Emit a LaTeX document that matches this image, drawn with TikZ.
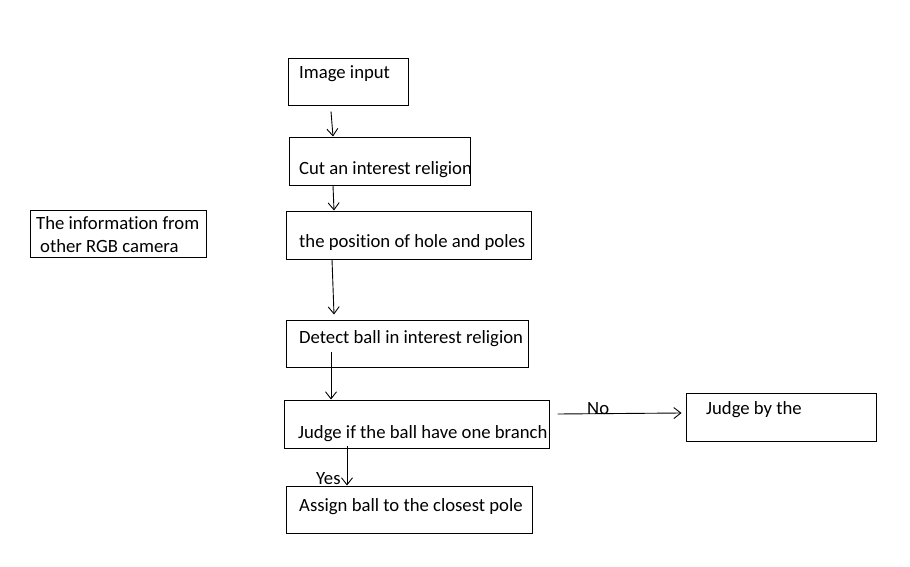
\documentclass[tikz,border=0pt]{standalone}
\usepackage{fontspec}
\setmainfont{Carlito}[Ligatures={NoCommon}]
\usepackage{tikz}
\usetikzlibrary{positioning, arrows.meta, calc}

\tikzset{
  flowbox/.style={draw, line width=1pt, minimum height=47pt, inner sep=0pt},
  boxtext/.style={anchor=base west, inner sep=0pt, font=\fontsize{18.7}{22}\selectfont},
  flowarrow/.style={-{Straight Barb[length=7pt,width=11pt]}, line width=0.9pt},
}

\begin{document}
\begin{tikzpicture}[x=1pt,y=-1pt]
  \useasboundingbox (0,0) rectangle (910,567);

  % boxes
  \node[flowbox, minimum width=120pt] (imgbox) at (348,82.5) {};
  \node[flowbox, minimum width=181pt] (cutbox) at (379.5,161.5) {};
  \node[flowbox, minimum width=245pt, minimum height=48pt] (posbox) at (408.5,235) {};
  \node[flowbox, minimum width=242pt] (detbox) at (407,343.5) {};
  \node[flowbox, minimum width=265pt, minimum height=48pt] (judgebox) at (416.5,424) {};
  \node[flowbox, minimum width=246pt] (assignbox) at (409,509.5) {};
  \node[flowbox, minimum width=190pt, minimum height=48pt] (jbybox) at (781,417) {};
  \node[flowbox, minimum width=176pt] (infobox) at (118,233.5) {};

  % texts
  \node[boxtext] (imgtext) at (299,79) {Image input};
  \node[boxtext] (cuttext) at (299,175) {Cut an interest religion};
  \node[boxtext] (postext) at (299,247) {the position of hole and poles};
  \node[boxtext] (dettext) at (299,343) {Detect ball in interest religion};
  \node[boxtext] (judgetext) at (298,438) {Judge if the ball have one branch};
  \node[boxtext] (assigntext) at (299,511) {Assign ball to the closest pole};
  \node[boxtext] (jbytext) at (706,414) {Judge by the};
  \node[boxtext] (infotexta) at (36,229) {The information from};
  \node[boxtext] (infotextb) at (40,252) {other RGB camera};

  % arrows
  \draw[flowarrow] ($(imgbox.south)+(-17,5)$) -- ($(cutbox.north)+(-46.5,-1)$);
  \draw[flowarrow] ($(cutbox.south)+(-46.5,0)$) -- ($(posbox.north)+(-74.5,0)$);
  \draw[flowarrow] ($(posbox.south)+(-76.5,0)$) -- ($(detbox.north)+(-73,-5)$);
  \draw[flowarrow] ($(detbox.center)+(-76,8.5)$) -- ($(judgebox.north)+(-85.5,0)$);
  \draw[flowarrow] ($(judgebox.south)+(-69.5,-3)$) -- ($(assignbox.north)+(-62,0)$);
  \draw[flowarrow] ($(judgebox.east)+(8,-10)$) -- ($(jbybox.west)+(-4,-4)$);

  % branch labels
  \node[boxtext] (yeslabel) at (316,484) {Yes};
  \node[boxtext] (nolabel) at (587,414) {No};
\end{tikzpicture}
\end{document}
